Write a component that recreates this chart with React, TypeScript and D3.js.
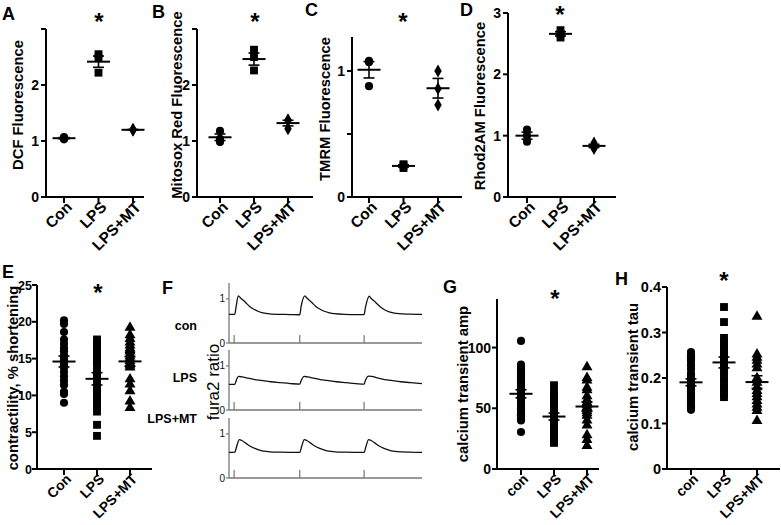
import React from 'react';
import * as d3 from 'd3';

const FONT = "'Liberation Sans', Arial, Helvetica, sans-serif";

// ---------- categories ----------
const catsUpper = ['Con', 'LPS', 'LPS+MT'];
const catsLower = ['con', 'LPS', 'LPS+MT'];

// ---------- A: DCF ----------
const dcfCon = [1.03, 1.05, 1.07];
const dcfLps = [2.55, 2.48, 2.22];
const dcfMt = [1.21, 1.19, 1.2];

// ---------- B: Mitosox ----------
const mitoCon = [1.18, 1.04, 0.98];
const mitoLps = [2.63, 2.5, 2.26];
const mitoMt = [1.38, 1.36, 1.22];

// ---------- C: TMRM ----------
const tmrmCon = [1.08, 1.07, 0.88];
const tmrmLps = [0.26, 0.25, 0.23];
const tmrmMt = [1.0, 0.86, 0.73];

// ---------- D: Rhod2AM ----------
const rhodCon = [1.1, 1.0, 0.9];
const rhodLps = [2.72, 2.66, 2.6];
const rhodMt = [0.88, 0.83, 0.79];

// ---------- E: contractility ----------
const contrCon = [20.2, 19.7, 18.6, 17.6, 17.0, 16.4, 16.0, 15.4, 15.0, 14.6, 14.2, 13.8, 13.2, 12.6, 12.0, 11.4, 10.5, 10.2, 9.0];
const contrLps = [17.6, 17.2, 16.8, 16.4, 16.0, 15.5, 15.0, 14.5, 14.0, 13.0, 12.5, 12.0, 11.0, 10.5, 10.0, 9.5, 9.0, 8.5, 7.8, 6.0, 4.5];
const contrMt = [19.2, 18.2, 17.7, 17.2, 16.8, 16.4, 16.2, 16.0, 15.6, 15.3, 15.0, 14.7, 14.4, 14.1, 13.8, 12.2, 11.5, 10.6, 9.2, 8.3];

// ---------- G: calcium transient amp ----------
const ampCon = [105.5, 86, 84, 82, 80, 78, 76, 74, 72, 70, 68, 66, 64, 62, 60, 58, 56, 54, 52, 50, 48, 46, 45, 44, 42, 41, 40, 30.5];
const ampLps = [69, 63, 61, 59, 57, 55, 53, 51, 49, 47, 45, 43, 41, 39, 37, 35, 33, 31, 29, 27, 25, 23, 21.5];
const ampMt = [84, 75, 73, 67, 65, 60, 57, 55, 54, 53, 51, 50, 48, 46, 44, 40, 36, 28, 24, 19];

// ---------- H: calcium transient tau ----------
const tauCon = [0.257, 0.25, 0.245, 0.24, 0.235, 0.228, 0.22, 0.21, 0.205, 0.2, 0.197, 0.194, 0.19, 0.186, 0.18, 0.175, 0.17, 0.165, 0.16, 0.155, 0.15, 0.145, 0.14, 0.135, 0.13];
const tauLps = [0.356, 0.323, 0.288, 0.28, 0.272, 0.265, 0.258, 0.25, 0.243, 0.236, 0.228, 0.22, 0.212, 0.2, 0.193, 0.186, 0.179, 0.172, 0.165, 0.158];
const tauMt = [0.335, 0.252, 0.245, 0.238, 0.23, 0.222, 0.2, 0.19, 0.18, 0.172, 0.165, 0.158, 0.15, 0.142, 0.135, 0.128, 0.106];

// ---------- F: fura2 ratio traces [time s, ratio] ----------
const traceCon: [number, number][] = [
  [0, 0.65], [0.09, 0.65], [0.11, 0.82], [0.145, 1.07], [0.18, 1.02], [0.25, 0.93], [0.32, 0.83], [0.38, 0.77], [0.45, 0.72], [0.51, 0.69], [0.6, 0.665], [0.75, 0.65], [0.95, 0.645], [1.1, 0.64],
  [1.12, 0.82], [1.18, 1.07], [1.21, 1.02], [1.28, 0.93], [1.35, 0.83], [1.41, 0.77], [1.48, 0.72], [1.55, 0.69], [1.64, 0.665], [1.8, 0.65], [2.0, 0.645], [2.1, 0.645],
  [2.12, 0.8], [2.18, 1.06], [2.21, 1.01], [2.28, 0.92], [2.35, 0.82], [2.41, 0.76], [2.48, 0.71], [2.55, 0.685], [2.64, 0.665], [2.8, 0.655], [3.0, 0.65],
];
const traceLps: [number, number][] = [
  [0, 0.58], [0.09, 0.58], [0.11, 0.66], [0.15, 0.76], [0.2, 0.75], [0.3, 0.72], [0.4, 0.69], [0.5, 0.67], [0.65, 0.64], [0.8, 0.62], [0.95, 0.6], [1.1, 0.585],
  [1.12, 0.66], [1.17, 0.76], [1.22, 0.75], [1.32, 0.72], [1.42, 0.69], [1.52, 0.67], [1.67, 0.64], [1.82, 0.62], [1.97, 0.6], [2.1, 0.585],
  [2.12, 0.67], [2.17, 0.77], [2.22, 0.76], [2.32, 0.72], [2.42, 0.69], [2.52, 0.67], [2.67, 0.64], [2.82, 0.62], [3.0, 0.6],
];
const traceMt: [number, number][] = [
  [0, 0.58], [0.09, 0.585], [0.12, 0.72], [0.16, 0.87], [0.2, 0.85], [0.26, 0.79], [0.33, 0.72], [0.4, 0.67], [0.5, 0.62], [0.6, 0.6], [0.8, 0.585], [1.1, 0.58],
  [1.13, 0.72], [1.17, 0.87], [1.21, 0.85], [1.27, 0.79], [1.34, 0.72], [1.41, 0.67], [1.51, 0.62], [1.61, 0.6], [1.81, 0.585], [2.1, 0.58],
  [2.13, 0.72], [2.17, 0.87], [2.21, 0.85], [2.27, 0.79], [2.34, 0.72], [2.41, 0.67], [2.51, 0.62], [2.61, 0.6], [2.81, 0.585], [3.0, 0.58],
];
const stimTimes = [0.08, 1.1, 2.1];
const traceLabels = ['con', 'LPS', 'LPS+MT'];

// ---------- panel layout ----------
type Shape = 'circle' | 'square' | 'diamond' | 'triangle';
const symbolOf: Record<Shape, d3.SymbolType> = {
  circle: d3.symbolCircle,
  square: d3.symbolSquare,
  diamond: d3.symbolDiamond,
  triangle: d3.symbolTriangle,
};
const symbolSize: Record<Shape, number> = { circle: 52, square: 62, diamond: 48, triangle: 52 };

interface PanelCfg {
  letter: string; lx: number; ly: number;
  x0: number; x1: number; yTop: number; y0: number; max: number;
  ticks: number[]; labeled: number[]; fmt?: (v: number) => string;
  cats: string[]; c0: number; c1: number;
  yLabel: string; ylx: number; yly: number;
  star: [number, number];
  series: number[][]; shapes: Shape[];
  tickFont: number; tickGap: number; catFont: number; catDx: number; catDy: number;
}

const panels: PanelCfg[] = [
  { letter: 'A', lx: 2, ly: 20, x0: 46, x1: 144, yTop: 29, y0: 197, max: 3, ticks: [0, 1, 2, 3], labeled: [0, 1, 2],
    cats: catsUpper, c0: 64, c1: 133, yLabel: 'DCF Fluorescence', ylx: 18, yly: 105, star: [99, 17],
    series: [dcfCon, dcfLps, dcfMt], shapes: ['circle', 'square', 'diamond'], tickFont: 14, tickGap: 7, catFont: 15.5, catDx: 9, catDy: 11 },
  { letter: 'B', lx: 152, ly: 18, x0: 197, x1: 313, yTop: 29, y0: 197, max: 3, ticks: [0, 1, 2, 3], labeled: [0, 1, 2],
    cats: catsUpper, c0: 220, c1: 288, yLabel: 'Mitosox Red Fluorescence', ylx: 177, yly: 105, star: [255, 17],
    series: [mitoCon, mitoLps, mitoMt], shapes: ['circle', 'square', 'diamond'], tickFont: 14, tickGap: 7, catFont: 15.5, catDx: 9, catDy: 11 },
  { letter: 'C', lx: 305, ly: 16, x0: 352, x1: 462, yTop: 37, y0: 197, max: 1.27, ticks: [0, 0.5, 1], labeled: [0, 1],
    cats: catsUpper, c0: 369, c1: 438, yLabel: 'TMRM Fluorescence', ylx: 325, yly: 109, star: [403, 17],
    series: [tmrmCon, tmrmLps, tmrmMt], shapes: ['circle', 'square', 'diamond'], tickFont: 14, tickGap: 7, catFont: 15.5, catDx: 9, catDy: 11 },
  { letter: 'D', lx: 460, ly: 16, x0: 508, x1: 616, yTop: 13, y0: 197, max: 3, ticks: [0, 1, 2, 3], labeled: [0, 1, 2, 3],
    cats: catsUpper, c0: 527, c1: 594, yLabel: 'Rhod2AM Fluorescence', ylx: 480, yly: 106, star: [560, 10],
    series: [rhodCon, rhodLps, rhodMt], shapes: ['circle', 'square', 'diamond'], tickFont: 14, tickGap: 7, catFont: 15.5, catDx: 9, catDy: 11 },
  { letter: 'E', lx: 2, ly: 278, x0: 37, x1: 152, yTop: 285, y0: 469, max: 25, ticks: [0, 5, 10, 15, 20, 25], labeled: [0, 5, 10, 15, 20, 25],
    cats: catsUpper, c0: 64, c1: 130, yLabel: 'contractility, % shortening', ylx: 13, yly: 378, star: [98, 288],
    series: [contrCon, contrLps, contrMt], shapes: ['circle', 'square', 'triangle'], tickFont: 12.5, tickGap: 5, catFont: 14, catDx: 8, catDy: 11 },
  { letter: 'G', lx: 443, ly: 293, x0: 497, x1: 599, yTop: 299, y0: 469, max: 140, ticks: [0, 50, 100], labeled: [0, 50, 100],
    cats: catsLower, c0: 521, c1: 587, yLabel: 'calcium transient amp', ylx: 463, yly: 384, star: [555, 294],
    series: [ampCon, ampLps, ampMt], shapes: ['circle', 'square', 'triangle'], tickFont: 14, tickGap: 6, catFont: 14, catDx: 8, catDy: 11 },
  { letter: 'H', lx: 615, ly: 285, x0: 667, x1: 780, yTop: 287, y0: 469, max: 0.4, ticks: [0, 0.1, 0.2, 0.3, 0.4], labeled: [0, 0.1, 0.2, 0.3, 0.4],
    fmt: (v) => (v === 0 ? '0' : v.toFixed(1)),
    cats: catsLower, c0: 691, c1: 757, yLabel: 'calcium transient tau', ylx: 633, yly: 377, star: [724, 276],
    series: [tauCon, tauLps, tauMt], shapes: ['circle', 'square', 'triangle'], tickFont: 14.5, tickGap: 6, catFont: 14, catDx: 8, catDy: 11 },
];

function ScatterPanel({ p }: { p: PanelCfg }) {
  const y = d3.scaleLinear().domain([0, p.max]).range([p.y0, p.yTop]);
  const x = d3.scalePoint<string>().domain(p.cats).range([p.c0, p.c1]);
  const fmt = p.fmt || ((v: number) => String(v));
  const meanHalf = 11.5;
  const capHalf = 5.5;
  return (
    <g>
      <text x={p.lx} y={p.ly} fontFamily={FONT} fontWeight="bold" fontSize={18}>{p.letter}</text>
      {/* axes */}
      <line x1={p.x0} x2={p.x0} y1={p.yTop} y2={p.y0 + 1} stroke="#000" strokeWidth={2} />
      <line x1={p.x0 - 1} x2={p.x1} y1={p.y0} y2={p.y0} stroke="#000" strokeWidth={2} />
      {p.ticks.map((t) => (
        <g key={t}>
          <line x1={p.x0 - 5} x2={p.x0} y1={y(t)} y2={y(t)} stroke="#000" strokeWidth={2} />
          {p.labeled.includes(t) && (
            <text x={p.x0 - p.tickGap} y={y(t)} dy="0.36em" textAnchor="end" fontFamily={FONT} fontWeight="bold" fontSize={p.tickFont}>{fmt(t)}</text>
          )}
        </g>
      ))}
      {p.cats.map((c) => (
        <g key={c}>
          <line x1={x(c)} x2={x(c)} y1={p.y0} y2={p.y0 + 6} stroke="#000" strokeWidth={2} />
          <text transform={`translate(${(x(c) as number) + p.catDx},${p.y0 + p.catDy}) rotate(-45)`} textAnchor="end"
            fontFamily={FONT} fontWeight="bold" fontSize={p.catFont}>{c}</text>
        </g>
      ))}
      <text transform={`translate(${p.ylx},${p.yly}) rotate(-90)`} textAnchor="middle" dy="0.36em"
        fontFamily={FONT} fontWeight="bold" fontSize={14.8}>{p.yLabel}</text>
      <text x={p.star[0]} y={p.star[1] + 12.5} textAnchor="middle" fontFamily={FONT} fontWeight="bold" fontSize={24}>*</text>
      {p.series.map((vals, i) => {
        const cx = x(p.cats[i]) as number;
        const m = d3.mean(vals) as number;
        const sem = (d3.deviation(vals) as number) / Math.sqrt(vals.length);
        const path = d3.symbol().type(symbolOf[p.shapes[i]]).size(symbolSize[p.shapes[i]])() as string;
        return (
          <g key={i}>
            {vals.map((v, j) => (
              <path key={j} d={path} transform={`translate(${cx},${y(v)})`} fill="#000" />
            ))}
            <line x1={cx - meanHalf} x2={cx + meanHalf} y1={y(m)} y2={y(m)} stroke="#000" strokeWidth={2} />
            <line x1={cx} x2={cx} y1={y(m - sem)} y2={y(m + sem)} stroke="#000" strokeWidth={1.6} />
            <line x1={cx - capHalf} x2={cx + capHalf} y1={y(m + sem)} y2={y(m + sem)} stroke="#000" strokeWidth={1.6} />
            <line x1={cx - capHalf} x2={cx + capHalf} y1={y(m - sem)} y2={y(m - sem)} stroke="#000" strokeWidth={1.6} />
          </g>
        );
      })}
    </g>
  );
}

function TracePanel() {
  const fx = d3.scaleLinear().domain([0, 3]).range([229, 422]);
  const bases = [343, 410, 478];
  const traces = [traceCon, traceLps, traceMt];
  const labelY = [325, 377, 418];
  return (
    <g>
      <text x={162} y={294} fontFamily={FONT} fontWeight="bold" fontSize={18}>F</text>
      <text transform="translate(213,382) rotate(-90)" textAnchor="middle" dy="0.36em" fontFamily={FONT} fontSize={17}>fura2 ratio</text>
      {traces.map((tr, i) => {
        const base = bases[i];
        const fy = d3.scaleLinear().domain([0, 1.36]).range([base, base - 60]);
        const line = d3.line<[number, number]>().x((d) => fx(d[0])).y((d) => fy(d[1])).curve(d3.curveMonotoneX);
        return (
          <g key={i}>
            <text x={197} y={labelY[i]} dy="0.36em" textAnchor="end" fontFamily={FONT} fontWeight="bold" fontSize={12.5}>{traceLabels[i]}</text>
            <line x1={fx(0)} x2={fx(0)} y1={fy(1.36)} y2={base} stroke="#777" strokeWidth={1.3} />
            <line x1={fx(0)} x2={fx(3)} y1={base} y2={base} stroke="#777" strokeWidth={1.3} />
            {[0, 1].map((t) => (
              <g key={t}>
                <line x1={fx(0) - 3} x2={fx(0)} y1={fy(t)} y2={fy(t)} stroke="#777" strokeWidth={1.2} />
                <text x={fx(0) - 4} y={fy(t)} dy="0.36em" textAnchor="end" fontFamily={FONT} fontSize={10} fill="#111">{t}</text>
              </g>
            ))}
            {stimTimes.map((s) => (
              <line key={s} x1={fx(s)} x2={fx(s)} y1={base} y2={base - 8} stroke="#777" strokeWidth={1.2} />
            ))}
            <path d={line(tr) as string} fill="none" stroke="#111" strokeWidth={1.3} />
          </g>
        );
      })}
    </g>
  );
}

export default function App() {
  return (
    <svg width={781} height={525} viewBox="0 0 781 525"
      style={{ position: 'absolute', left: 0, top: 0, background: '#fff' }}>
      <rect x={0} y={0} width={781} height={525} fill="#fff" />
      {panels.map((p) => <ScatterPanel key={p.letter} p={p} />)}
      <TracePanel />
    </svg>
  );
}
